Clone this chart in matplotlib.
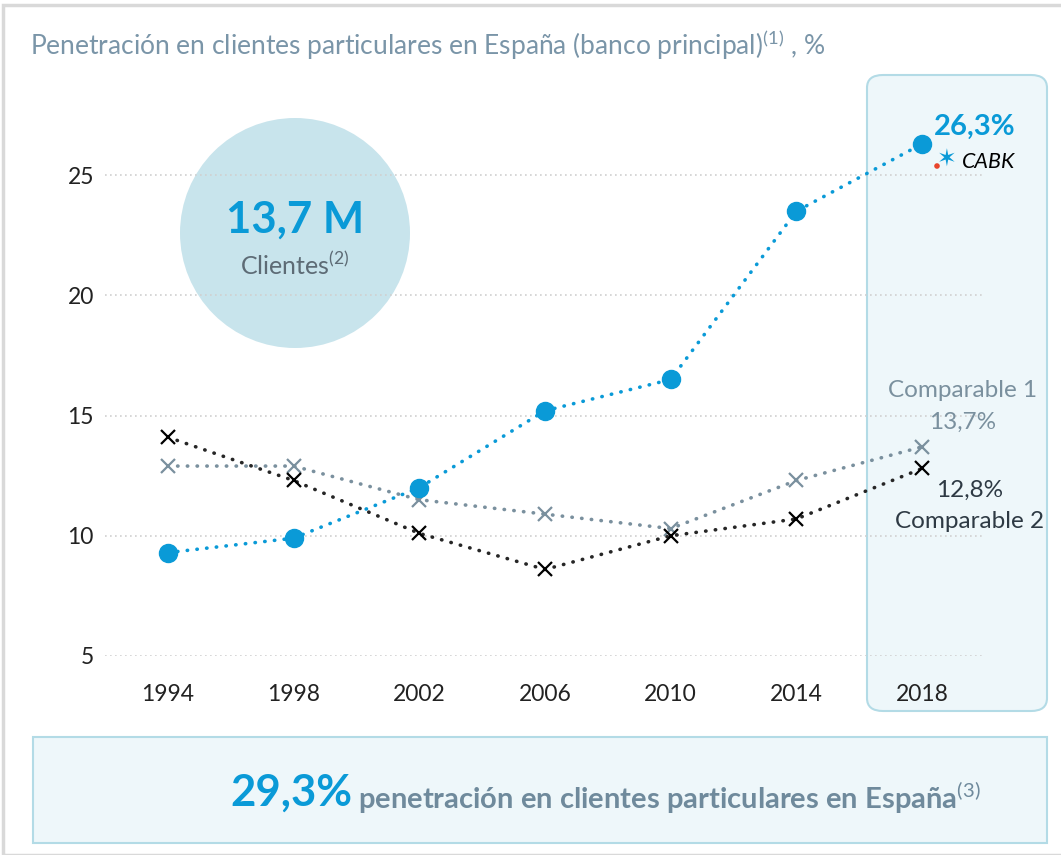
import matplotlib
matplotlib.use("Agg")
import matplotlib.pyplot as plt
from matplotlib.patches import FancyBboxPatch, Circle, Rectangle

plt.rcParams['font.family'] = ['Lato', 'DejaVu Sans']
plt.rcParams['mathtext.fontset'] = 'custom'
plt.rcParams['mathtext.rm'] = 'Lato'

years = [1994, 1998, 2002, 2006, 2010, 2014, 2018]
cabk = [9.3, 9.9, 12.0, 15.2, 16.5, 23.5, 26.3]
comp1 = [12.9, 12.9, 11.5, 10.9, 10.3, 12.3, 13.7]
comp2 = [14.1, 12.3, 10.1, 8.6, 10.0, 10.7, 12.8]
yticks = [5, 10, 15, 20, 25]

blue = '#0a9ad7'
grey = '#7a909e'
dark = '#262626'
title_col = '#7a95a8'
box_fill = '#eef7fa'
box_edge = '#b3dbe6'

fig = plt.figure(figsize=(10.61, 8.55), dpi=100)
W, H = 1061, 855

# outer frame
fig.patches.append(Rectangle((3 / W, 0), 1.2, 1 - 5 / H, transform=fig.transFigure,
                             fill=False, edgecolor='#d9d9d9', lw=2.5, zorder=0))

# highlight box around 2018
fig.patches.append(FancyBboxPatch((867 / W, 1 - 711 / H), 180 / W, 636 / H,
                                  boxstyle='round,pad=0,rounding_size=0.015',
                                  transform=fig.transFigure, facecolor=box_fill,
                                  edgecolor=box_edge, lw=1.5, zorder=0))

# bottom box
fig.patches.append(Rectangle((33 / W, 1 - 843 / H), 1014 / W, 106 / H,
                             transform=fig.transFigure, facecolor=box_fill,
                             edgecolor=box_edge, lw=1.5, zorder=0))

# circle with clients
fig.patches.append(Circle((2.95, 8.55 - 2.33), 1.15, transform=fig.dpi_scale_trans,
                          facecolor='#c8e4ec', edgecolor='none', zorder=0))

# little red dot of the logo
fig.patches.append(Circle((9.37, 8.55 - 1.66), 0.028, transform=fig.dpi_scale_trans,
                          facecolor='#e8452c', edgecolor='none', zorder=3))

ax = fig.add_axes([105 / W, 1 - 656 / H, 880 / W, 553 / H])
ax.set_zorder(2)
ax.patch.set_alpha(0)
ax.set_xlim(1992, 2020)
ax.set_ylim(5, 28)
for s in ax.spines.values():
    s.set_visible(False)
ax.set_yticks(yticks)
ax.set_xticks(years)
ax.tick_params(length=0, labelsize=16.5, colors='#222222', pad=8)
ax.tick_params(axis='x', pad=20)
for y in yticks:
    ax.axhline(y, color='#d0d0d0', lw=1.2, linestyle=(0, (1, 2)), zorder=1)

dots = (0, (0.1, 2.6))
ax.plot(years, comp1, color=grey, lw=2.6, linestyle=dots, dash_capstyle='round',
        marker='x', ms=10.5, mew=1.6, zorder=3)
ax.plot(years, comp2, color=dark, lw=2.6, linestyle=dots, dash_capstyle='round',
        marker='x', ms=10.5, mew=1.6, mec='black', zorder=3)
ax.plot(years, cabk, color=blue, lw=2.6, linestyle=dots, dash_capstyle='round',
        marker='o', ms=13, zorder=4)

fig.text(295 / W, 1 - 220 / H, '13,7 M', color=blue, fontsize=31.5, fontweight='bold',
         ha='center', va='center', zorder=3)
fig.text(295 / W, 1 - 265 / H, 'Clientes$^{(2)}$', color='#5d6b75', fontsize=18,
         ha='center', va='center', zorder=3)

# title
fig.text(30 / W, 1 - 45 / H, 'Penetración en clientes particulares en España (banco principal)$^{(1)}$ , %',
         color=title_col, fontsize=19, ha='left', va='center')

# annotations in the 2018 box
fig.text(975 / W, 1 - 127 / H, '26,3%', color=blue, fontsize=21, fontweight='bold',
         ha='center', va='center', zorder=3)
fig.text(962 / W, 1 - 162 / H, 'CABK', color='black', fontsize=15.5, fontstyle='italic',
         ha='left', va='center', zorder=3)
fig.text(947 / W, 1 - 160 / H, '\u2736', color=blue, fontsize=17, ha='center', va='center',
         family='DejaVu Sans', zorder=3)
fig.text(963 / W, 1 - 390 / H, 'Comparable 1', color=grey, fontsize=17.5, ha='center', va='center', zorder=3)
fig.text(963 / W, 1 - 422 / H, '13,7%', color=grey, fontsize=17.5, ha='center', va='center', zorder=3)
fig.text(970 / W, 1 - 490 / H, '12,8%', color='#2e3a44', fontsize=17.5, ha='center', va='center', zorder=3)
fig.text(970 / W, 1 - 521 / H, 'Comparable 2', color='#2e3a44', fontsize=17.5, ha='center', va='center', zorder=3)

# bottom banner
fig.text(230 / W, 1 - 793 / H, '29,3%', color=blue, fontsize=31.5, fontweight='bold',
         ha='left', va='center', zorder=3)
fig.text(358 / W, 1 - 798 / H, 'penetración en clientes particulares en España$^{(3)}$',
         color='#6f8a9c', fontsize=21, fontweight='bold', ha='left', va='center', zorder=3)

fig.savefig('out.png', dpi=100)
